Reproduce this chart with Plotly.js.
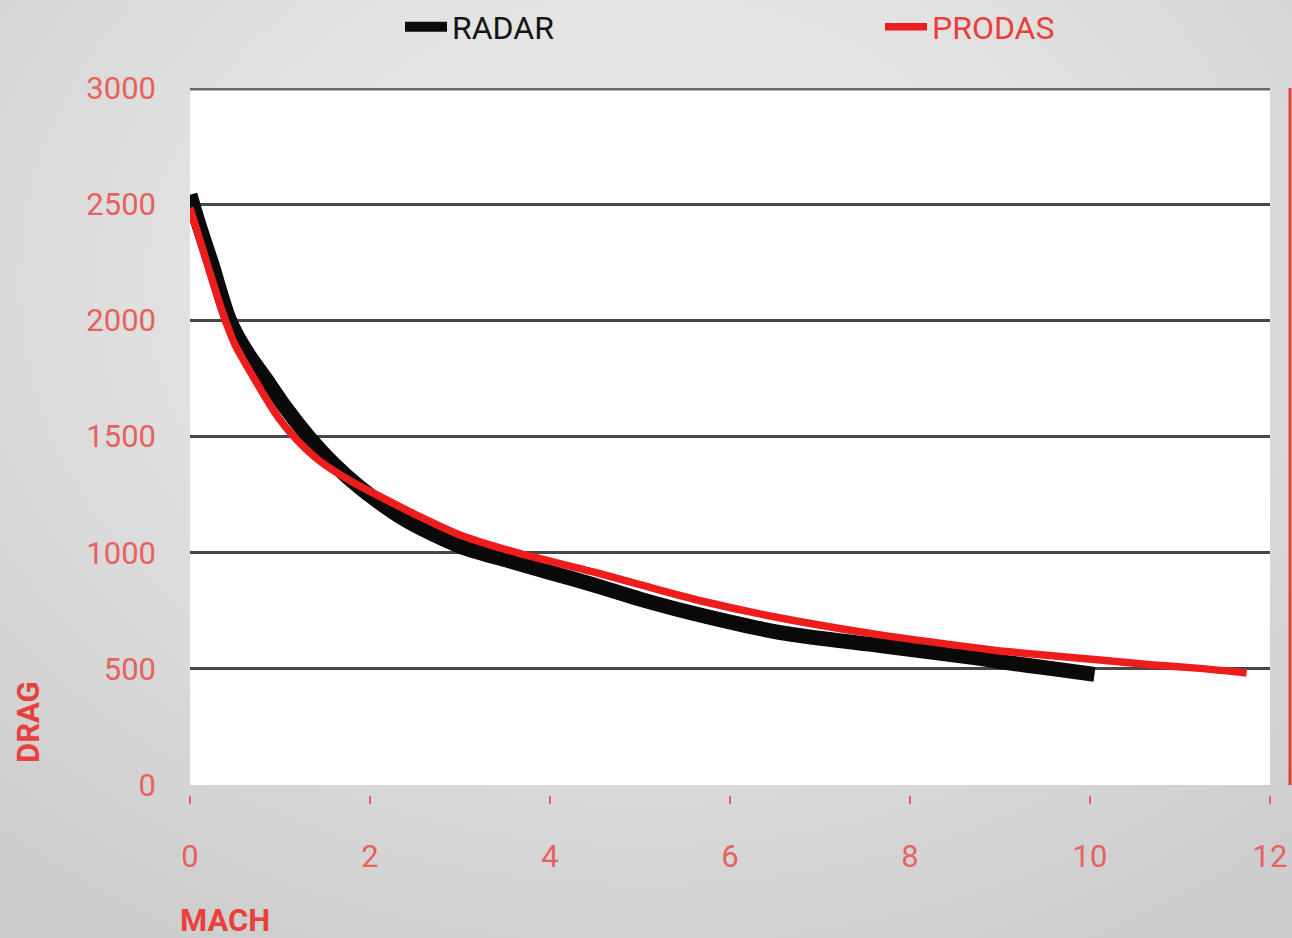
<!DOCTYPE html>
<html>
<head>
<meta charset="utf-8">
<script src="https://cdn.plot.ly/plotly-3.0.1.min.js"></script>
<style>
  html, body { margin: 0; padding: 0; }
  body {
    width: 1292px; height: 938px; overflow: hidden;
    background: radial-gradient(ellipse 75% 80% at 50% 30%, #ececec 0%, #e2e2e2 45%, #cdcdcd 100%);
  }
  #chart { width: 1292px; height: 938px; }
</style>
</head>
<body>
<div id="chart"></div>
<script>
// Drag versus Mach number: radar measurements and PRODAS prediction
const radarMach = [0, 0.1, 0.24, 0.44, 0.62, 0.85, 1.05, 1.31, 1.6, 1.89, 2.4, 3.0, 3.5, 4.0, 4.48, 5.0, 5.6, 6.56, 7.67, 8.78, 9.0, 9.56, 10.05];
const radarDrag = [2540, 2410, 2245, 2000, 1870, 1743, 1630, 1502, 1380, 1280, 1140, 1028, 970, 915, 862, 800, 738, 656, 600, 545, 531, 502, 476];

const prodasMach = [0, 0.185, 0.37, 0.5, 0.72, 0.94, 1.13, 1.44, 1.8, 2.11, 2.5, 3.0, 3.63, 4.48, 5.0, 5.67, 6.56, 7.67, 8.78, 9.0, 10.11, 10.67, 11.22, 11.74];
const prodasDrag = [2485, 2250, 2025, 1895, 1745, 1605, 1510, 1395, 1305, 1242, 1165, 1076, 1000, 917, 862, 793, 719, 646, 588, 577, 538, 518, 502, 482];

const yTicks = [0, 500, 1000, 1500, 2000, 2500, 3000];
const xTicks = [0, 2, 4, 6, 8, 10, 12];

const RED = '#e8403b';
const TICK_RED = '#e6625e';
const FONT = 'Roboto, "Liberation Sans", sans-serif';

const traces = [
  {
    name: 'RADAR',
    x: radarMach, y: radarDrag,
    mode: 'lines',
    line: { color: '#0a0a0a', width: 15, shape: 'spline', smoothing: 0.8 },
    legend: 'legend',
    hoverinfo: 'x+y'
  },
  {
    name: 'PRODAS',
    x: prodasMach, y: prodasDrag,
    mode: 'lines',
    line: { color: '#ee1d1d', width: 7.5, shape: 'spline', smoothing: 0.8 },
    legend: 'legend2',
    hoverinfo: 'x+y'
  }
];

// plot area spans 190..1270 px horizontally, 88..795 px vertically
const W = 1292, H = 938, L = 190, R = 22, T = 88, B = 143;
const plotW = W - L - R, plotH = H - T - B;
const px2x = p => (p - L) / plotW;
const px2y = p => (T + plotH - p) / plotH;

const legendBase = {
  orientation: 'h',
  xref: 'container', yref: 'container',
  xanchor: 'left', yanchor: 'middle',
  y: 1 - 27 / H,
  itemwidth: 42,
  bgcolor: 'rgba(0,0,0,0)',
  itemclick: false, itemdoubleclick: false
};

const layout = {
  width: W, height: H,
  margin: { l: L, r: R, t: T, b: B, pad: 0, autoexpand: false },
  paper_bgcolor: 'rgba(0,0,0,0)',
  plot_bgcolor: 'rgba(0,0,0,0)',
  font: { family: FONT, color: TICK_RED },
  showlegend: true,
  legend: Object.assign({}, legendBase, {
    x: 400 / W,
    font: { family: FONT, size: 32, color: '#151515' }
  }),
  legend2: Object.assign({}, legendBase, {
    x: 880 / W,
    font: { family: FONT, size: 32, color: RED }
  }),
  xaxis: {
    range: [0, 12],
    tickvals: xTicks,
    ticktext: xTicks.map(String),
    anchor: 'free', position: 0,
    showgrid: false, zeroline: false, showline: false,
    ticks: 'outside', ticklen: 8, tickwidth: 2, tickcolor: TICK_RED,
    tickfont: { family: FONT, size: 31, color: TICK_RED },
    ticklabelstandoff: 26,
    fixedrange: true
  },
  yaxis: {
    range: [0, 3000],
    domain: [10 / plotH, 1],
    tickvals: yTicks,
    ticktext: yTicks.map(String),
    showgrid: true, gridcolor: '#474747', gridwidth: 3,
    zeroline: false, showline: false, ticks: '',
    tickfont: { family: FONT, size: 31, color: TICK_RED },
    ticklabelstandoff: 33,
    fixedrange: true
  },
  shapes: [
    { type: 'rect', xref: 'x domain', yref: 'y domain', x0: 0, x1: 1, y0: 0, y1: 1,
      fillcolor: '#ffffff', line: { width: 0 }, layer: 'below' },
    { type: 'line', xref: 'x domain', yref: 'y', x0: 0, x1: 1, y0: 3000, y1: 3000,
      line: { color: '#6a6a6a', width: 5 }, layer: 'below' },
    { type: 'line', xref: 'paper', yref: 'y domain', x0: px2x(1290), x1: px2x(1290), y0: 0, y1: 1,
      line: { color: '#e0403c', width: 3 } }
  ],
  annotations: [
    { text: 'DRAG', xref: 'paper', yref: 'paper', x: px2x(28), y: px2y(722),
      xanchor: 'center', yanchor: 'middle', textangle: -90, showarrow: false,
      font: { family: FONT, size: 31, color: RED, weight: 'bold' } },
    { text: 'MACH', xref: 'paper', yref: 'paper', x: px2x(225), y: px2y(920),
      xanchor: 'center', yanchor: 'middle', showarrow: false,
      font: { family: FONT, size: 31, color: RED, weight: 'bold' } }
  ]
};

Plotly.newPlot('chart', traces, layout, { displayModeBar: false });
</script>
</body>
</html>
